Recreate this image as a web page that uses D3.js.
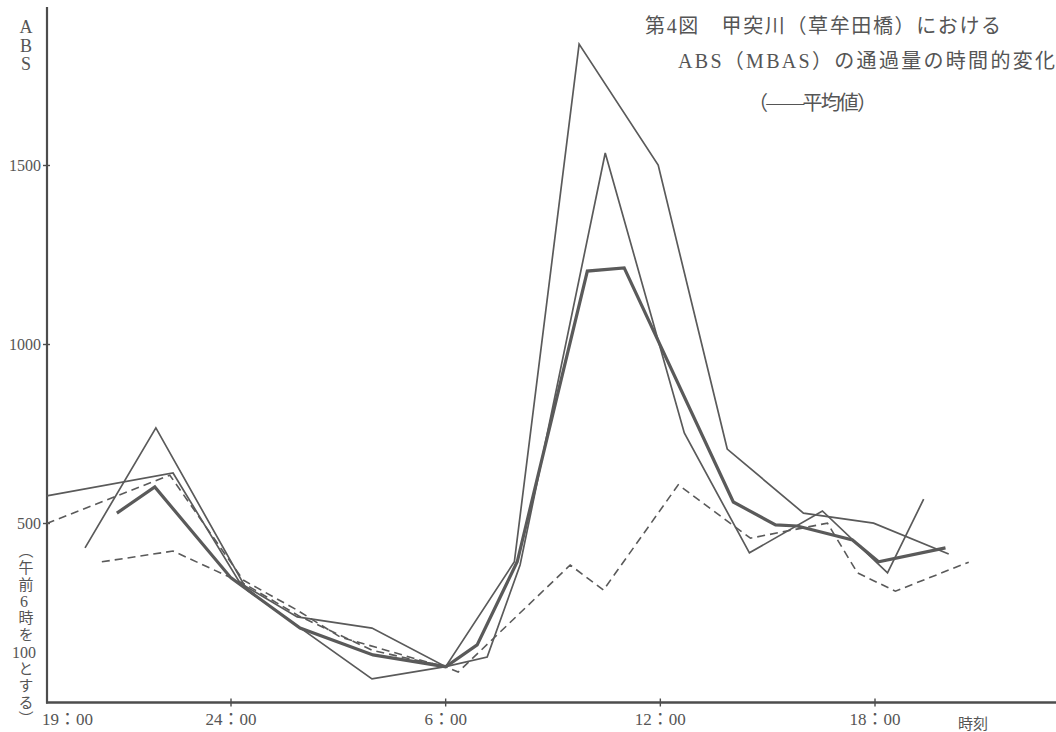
<!DOCTYPE html>
<html lang="ja">
<head>
<meta charset="utf-8">
<script src="https://cdn.jsdelivr.net/npm/d3@7/dist/d3.min.js"></script>
<style>
  html, body { margin: 0; padding: 0; background: #ffffff; }
  #wrap { position: relative; width: 1056px; height: 732px; }
  svg { display: block; }
  text { fill: #555; }
  .vnote {
    position: absolute;
    width: 30px;
    display: flex;
    flex-direction: column;
    align-items: center;
    font-family: 'Liberation Serif', 'Noto Sans CJK JP', serif;
    color: #555;
  }
  .vnote .run {
    writing-mode: vertical-rl;
    font-size: 15px;
    line-height: 1;
    letter-spacing: 1.7px;
    white-space: nowrap;
  }
  .vnote .num {
    font-size: 16px;
    line-height: 17px;
    white-space: nowrap;
  }
</style>
</head>
<body>
<div id="wrap">
<svg id="chart" width="1056" height="732"></svg>
</div>
<script>
// Hours are counted from midnight of the first day (24 = midnight, 30 = 6:00 next morning).
// Values are indexed so that 6:00 a.m. = 100.

// Mean (平均値), drawn thick
const hoursMean  = [20.81, 21.87, 24, 25.93, 27.97, 30, 30.88, 32, 33.96, 34.99, 38.04, 39.22, 39.83, 41.37, 42.1, 43.97];
const valuesMean = [529, 602, 348, 208, 133, 100, 161, 393, 1205, 1214, 560, 496, 493, 454, 393, 432];

// Individual surveys, thin solid
const hoursA  = [18.85, 22.38, 24.25, 25.85, 27.94, 30, 31.92, 33.73, 35.94, 37.87, 40, 41.96, 44.06];
const valuesA = [577, 641, 334, 239, 208, 100, 393, 1839, 1501, 708, 529, 501, 415];

const hoursB  = [19.92, 21.9, 24.45, 27.94, 30, 31.16, 32.08, 34.46, 36.67, 38.49, 40.53, 42.35, 43.36];
const valuesB = [432, 767, 314, 66, 100, 127, 384, 1535, 753, 418, 535, 362, 568];

// Individual surveys, dashed
const hoursC  = [18.85, 22.29, 24.34, 25.85, 27.05, 29.48, 30];
const valuesC = [500, 635, 342, 258, 183, 113, 100];

const hoursD  = [20.39, 22.38, 24.4, 25.93, 27.97, 30, 30.35, 31.44, 33.48, 34.41, 36.5, 38.52, 40.67, 41.51, 42.57, 44.62];
const valuesD = [393, 423, 330, 240, 145, 100, 85, 189, 384, 314, 608, 459, 501, 362, 311, 392];

// Axis ticks
const xTickHours  = [19, 24, 30, 36, 42];
const xTickLabels = ["19：00", "24：00", "6：00", "12：00", "18：00"];
const yTickValues = [500, 1000, 1500];

const titleLines = [
  "第4図　甲突川（草牟田橋）における",
  "ABS（MBAS）の通過量の時間的変化",
  "（——平均値）"
];
const yTitleChars = ["A", "B", "S"];
// vertical note: vertical runs and horizontal numerals
const yNoteParts = [
  { t: "（午前", num: false },
  { t: "6", num: true },
  { t: "時を", num: false },
  { t: "100", num: true },
  { t: "とする）", num: false }
];
const xTitle = "時刻";

const serif = "'Liberation Serif', 'DejaVu Serif', 'Noto Sans CJK JP', serif";
const ink = "#5a5a5a";

const svg = d3.select("#chart");

const axisLeft = 47, axisBottom = 702.5, axisTop = 7, axisRight = 1056;

const x = d3.scaleLinear().domain([24, 42]).range([231, 875]);
const y = d3.scaleLinear().domain([0, 1500]).range([axisBottom, 165.5]);

// axes
svg.append("line")
  .attr("x1", axisLeft).attr("x2", axisLeft)
  .attr("y1", axisTop).attr("y2", axisBottom + 1)
  .attr("stroke", "#4d4d4d").attr("stroke-width", 2.2);
svg.append("line")
  .attr("x1", axisLeft - 1).attr("x2", axisRight)
  .attr("y1", axisBottom).attr("y2", axisBottom)
  .attr("stroke", "#4d4d4d").attr("stroke-width", 2.4);

// y ticks and labels
yTickValues.forEach(v => {
  svg.append("line")
    .attr("x1", axisLeft - 4).attr("x2", axisLeft + 3)
    .attr("y1", y(v)).attr("y2", y(v))
    .attr("stroke", "#4d4d4d").attr("stroke-width", 1.4);
  svg.append("text")
    .attr("x", axisLeft - 6).attr("y", y(v) + 5)
    .attr("text-anchor", "end")
    .attr("font-family", serif).attr("font-size", 16)
    .text(v);
});

// x ticks and labels
xTickHours.forEach((h, i) => {
  const first = i === 0;
  if (!first) {
    svg.append("line")
      .attr("x1", x(h)).attr("x2", x(h))
      .attr("y1", axisBottom - 4).attr("y2", axisBottom + 4)
      .attr("stroke", "#4d4d4d").attr("stroke-width", 1.4);
  }
  svg.append("text")
    .attr("x", first ? axisLeft - 5 : x(h))
    .attr("y", axisBottom + 22)
    .attr("text-anchor", first ? "start" : "middle")
    .attr("font-family", serif).attr("font-size", 17)
    .text(xTickLabels[i]);
});

svg.append("text")
  .attr("x", 958).attr("y", 729)
  .attr("font-family", "'Noto Sans CJK JP', sans-serif").attr("font-size", 15)
  .text(xTitle);

// vertical y-axis title
yTitleChars.forEach((c, i) => {
  svg.append("text")
    .attr("x", 26).attr("y", 33 + i * 18.5)
    .attr("text-anchor", "middle")
    .attr("font-family", serif).attr("font-size", 18)
    .text(c);
});

// vertical note under the 500 label
const note = d3.select("#wrap").append("div")
  .attr("class", "vnote")
  .style("left", "9px")
  .style("top", "543px");
yNoteParts.forEach(p => {
  note.append("div").attr("class", p.num ? "num" : "run").text(p.t);
});

// title block
const titleSpec = [
  { x: 645, y: 33, len: 356 },
  { x: 678, y: 68, len: 377 },
  { x: 748, y: 110, len: 129 }
];
titleLines.forEach((s, i) => {
  svg.append("text")
    .attr("x", titleSpec[i].x).attr("y", titleSpec[i].y)
    .attr("font-family", serif).attr("font-size", 20)
    .attr("textLength", titleSpec[i].len).attr("lengthAdjust", "spacing")
    .text(s);
});

// series
const line = d3.line().x(d => x(d[0])).y(d => y(d[1]));
const zip = (hs, vs) => hs.map((h, i) => [h, vs[i]]);

const series = [
  { data: zip(hoursD, valuesD), width: 1.6, dash: "8,5" },
  { data: zip(hoursC, valuesC), width: 1.6, dash: "8,5" },
  { data: zip(hoursA, valuesA), width: 1.7, dash: null },
  { data: zip(hoursB, valuesB), width: 1.7, dash: null },
  { data: zip(hoursMean, valuesMean), width: 3.2, dash: null }
];

series.forEach(s => {
  svg.append("path")
    .datum(s.data)
    .attr("d", line)
    .attr("fill", "none")
    .attr("stroke", ink)
    .attr("stroke-width", s.width)
    .attr("stroke-linejoin", "miter")
    .attr("stroke-dasharray", s.dash);
});
</script>
</body>
</html>
